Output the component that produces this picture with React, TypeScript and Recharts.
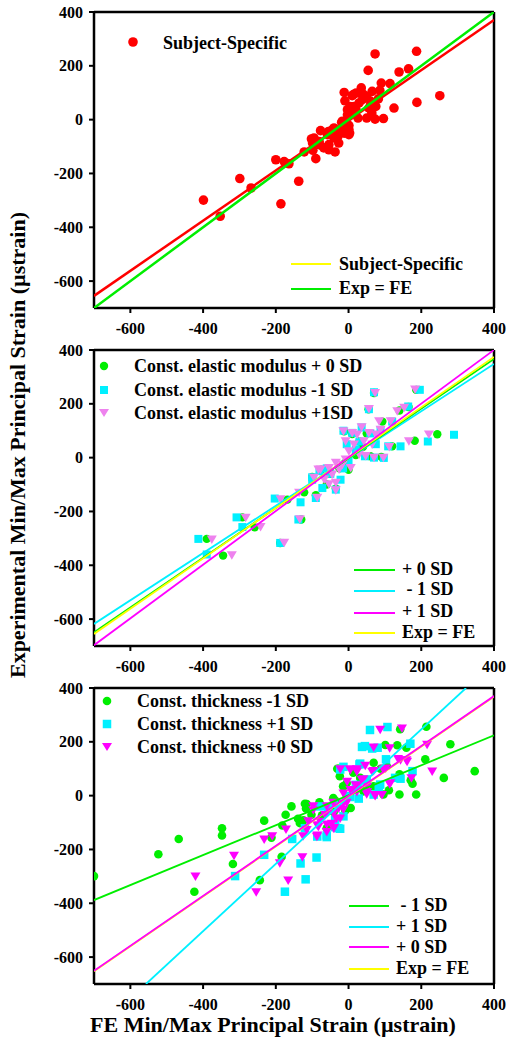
import React from 'react';
import { ScatterChart, Scatter, XAxis, YAxis, ReferenceLine } from 'recharts';

type Pt = { x: number; y: number };

const FONT = '"Liberation Serif", "Times New Roman", serif';

const xTicks = [-600, -400, -200, 0, 200, 400];
const yTicks = [-600, -400, -200, 0, 200, 400];
const axisDomain: [number, number] = [-700, 400];

// ---------- Panel 1 ----------
const subjectSpecific: Pt[] = [
  { x: -399, y: -299 }, { x: -353, y: -359 }, { x: -299, y: -219 }, { x: -268, y: -254 }, { x: -200, y: -149 },
  { x: -186, y: -313 }, { x: -177, y: -156 }, { x: -164, y: -164 }, { x: -137, y: -229 }, { x: -122, y: -120 },
  { x: -102, y: -72 }, { x: -99, y: -87 }, { x: -98, y: -114 }, { x: -95, y: -68 }, { x: -90, y: -145 },
  { x: -81, y: -81 }, { x: -79, y: -94 }, { x: -77, y: -41 }, { x: -68, y: -105 }, { x: -58, y: -56 },
  { x: -55, y: -44 }, { x: -54, y: -93 }, { x: -54, y: -112 }, { x: -44, y: -37 }, { x: -40, y: -31 },
  { x: -40, y: -68 }, { x: -37, y: -120 }, { x: -31, y: -43 }, { x: -29, y: -62 }, { x: -27, y: -87 },
  { x: -19, y: -10 }, { x: -17, y: -6 }, { x: -12, y: -50 }, { x: -12, y: -31 }, { x: -3, y: -31 },
  { x: -3, y: -19 }, { x: 1, y: -22 }, { x: 1, y: -56 }, { x: 3, y: -50 }, { x: 1, y: -37 },
  { x: 1, y: 12 }, { x: -12, y: 101 }, { x: -10, y: 70 }, { x: -3, y: 18 }, { x: -3, y: 37 },
  { x: 4, y: 49 }, { x: 10, y: 89 }, { x: 13, y: 93 }, { x: 15, y: 49 }, { x: 15, y: 31 },
  { x: 21, y: 99 }, { x: 26, y: 6 }, { x: 29, y: 62 }, { x: 35, y: 118 }, { x: 38, y: 74 },
  { x: 50, y: 87 }, { x: 50, y: 6 }, { x: 54, y: 183 }, { x: 56, y: 43 }, { x: 61, y: 56 },
  { x: 61, y: 68 }, { x: 64, y: 25 }, { x: 65, y: 105 }, { x: 73, y: 244 }, { x: 73, y: 2 },
  { x: 75, y: 49 }, { x: 82, y: 77 }, { x: 86, y: 109 }, { x: 90, y: 136 }, { x: 96, y: 4 },
  { x: 114, y: 134 }, { x: 125, y: 43 }, { x: 139, y: 177 }, { x: 165, y: 189 }, { x: 187, y: 254 },
  { x: 188, y: 64 }, { x: 251, y: 89 }, { x: 20, y: 40 }, { x: 8, y: 20 }, { x: 40, y: 95 },
];
const fitSubjectSpecific: Pt[] = [{ x: -700, y: -655 }, { x: 400, y: 370 }];
const fitExpEqFe: Pt[] = [{ x: -700, y: -700 }, { x: 400, y: 400 }];

// ---------- Panel 2 ----------
const modulusPlus0: Pt[] = [
  { x: -390, y: -302 }, { x: -345, y: -364 }, { x: -292, y: -222 }, { x: -258, y: -259 }, { x: -188, y: -317 },
  { x: -168, y: -156 }, { x: -122, y: -129 }, { x: -130, y: -230 }, { x: -100, y: -72 }, { x: -90, y: -140 },
  { x: -75, y: -45 }, { x: -60, y: -100 }, { x: -50, y: -60 }, { x: -35, y: -115 }, { x: -25, y: -40 },
  { x: -10, y: -20 }, { x: 0, y: -45 }, { x: -12, y: 98 }, { x: 10, y: 88 }, { x: 30, y: 60 },
  { x: 50, y: 90 }, { x: 55, y: 180 }, { x: 70, y: 240 }, { x: 93, y: 134 }, { x: 120, y: 42 },
  { x: 182, y: 63 }, { x: 244, y: 87 }, { x: 60, y: 5 }, { x: 90, y: 3 }, { x: 140, y: 175 },
  { x: 165, y: 188 }, { x: 186, y: 252 }, { x: 20, y: 10 }, { x: 40, y: 40 },
];
const modulusMinus1: Pt[] = [
  { x: -413, y: -302 }, { x: -390, y: -360 }, { x: -308, y: -222 }, { x: -292, y: -258 }, { x: -203, y: -152 },
  { x: -188, y: -317 }, { x: -132, y: -166 }, { x: -138, y: -230 }, { x: -100, y: -73 }, { x: -90, y: -150 },
  { x: -100, y: -82 }, { x: -72, y: -113 }, { x: -35, y: -119 }, { x: -22, y: -82 }, { x: -50, y: -60 },
  { x: -80, y: -50 }, { x: -60, y: -40 }, { x: -15, y: -40 }, { x: 0, y: -10 }, { x: -14, y: 100 },
  { x: 10, y: 92 }, { x: 36, y: 112 }, { x: 60, y: 90 }, { x: 88, y: 103 }, { x: 97, y: -1 },
  { x: 70, y: 0 }, { x: 45, y: 5 }, { x: 20, y: 30 }, { x: 30, y: 60 }, { x: -5, y: 50 },
  { x: 75, y: 50 }, { x: 56, y: 180 }, { x: 70, y: 243 }, { x: 120, y: 134 }, { x: 109, y: 42 },
  { x: 143, y: 42 }, { x: 164, y: 190 }, { x: 196, y: 252 }, { x: 218, y: 60 }, { x: 290, y: 85 },
];
const modulusPlus1: Pt[] = [
  { x: -376, y: -305 }, { x: -321, y: -364 }, { x: -283, y: -224 }, { x: -242, y: -259 }, { x: -177, y: -317 },
  { x: -187, y: -156 }, { x: -134, y: -230 }, { x: -136, y: -131 }, { x: -86, y: -150 }, { x: -95, y: -76 },
  { x: -83, y: -45 }, { x: -77, y: -45 }, { x: -67, y: -82 }, { x: -54, y: -100 }, { x: -54, y: -39 },
  { x: -45, y: -64 }, { x: -35, y: -122 }, { x: -35, y: -94 }, { x: -35, y: -20 }, { x: -26, y: -45 },
  { x: -17, y: -27 }, { x: -8, y: -8 }, { x: 6, y: -39 }, { x: 1, y: 23 }, { x: 29, y: 11 },
  { x: 47, y: 5 }, { x: 70, y: -1 }, { x: 96, y: -1 }, { x: -8, y: 60 }, { x: 15, y: 48 },
  { x: 42, y: 60 }, { x: 65, y: 48 }, { x: -14, y: 97 }, { x: 10, y: 91 }, { x: 24, y: 85 },
  { x: 36, y: 112 }, { x: 56, y: 91 }, { x: 75, y: 85 }, { x: 88, y: 103 }, { x: 84, y: 134 },
  { x: 116, y: 134 }, { x: 56, y: 180 }, { x: 73, y: 239 }, { x: 134, y: 171 }, { x: 153, y: 184 },
  { x: 183, y: 252 }, { x: 112, y: 39 }, { x: 166, y: 60 }, { x: 221, y: 85 },
];
const fitModulusPlus0: Pt[] = [{ x: -700, y: -649 }, { x: 400, y: 367 }];
const fitModulusMinus1: Pt[] = [{ x: -700, y: -618 }, { x: 400, y: 348 }];
const fitModulusPlus1: Pt[] = [{ x: -700, y: -697 }, { x: 400, y: 400 }];
const fitModulusExpFe: Pt[] = [{ x: -700, y: -655 }, { x: 400, y: 374 }];

// ---------- Panel 3 ----------
const thicknessMinus1: Pt[] = [
  { x: -700, y: -299 }, { x: -523, y: -218 }, { x: -467, y: -161 }, { x: -424, y: -357 }, { x: -348, y: -121 },
  { x: -348, y: -148 }, { x: -318, y: -254 }, { x: -244, y: -314 }, { x: -232, y: -93 }, { x: -212, y: -156 },
  { x: -184, y: -227 }, { x: -182, y: -111 }, { x: -173, y: -71 }, { x: -157, y: -40 }, { x: -139, y: -86 },
  { x: -134, y: -102 }, { x: -115, y: -31 }, { x: -117, y: -48 }, { x: -102, y: -71 }, { x: -80, y: -25 },
  { x: -60, y: -121 }, { x: -42, y: -9 }, { x: 6, y: -46 }, { x: -31, y: 100 }, { x: -24, y: 72 },
  { x: -15, y: 35 }, { x: -5, y: 47 }, { x: 13, y: 85 }, { x: 32, y: 66 }, { x: 69, y: 122 },
  { x: 101, y: 188 }, { x: 142, y: 247 }, { x: 214, y: 256 }, { x: 159, y: 178 }, { x: 211, y: 135 },
  { x: 140, y: 79 }, { x: 140, y: 4 }, { x: 186, y: 4 }, { x: 176, y: 44 }, { x: 96, y: 4 },
  { x: 262, y: 66 }, { x: 280, y: 191 }, { x: 347, y: 91 }, { x: 105, y: 110 }, { x: 69, y: 35 },
  { x: 41, y: 16 }, { x: -27, y: 100 }, { x: -9, y: 38 }, { x: 134, y: 187 }, { x: 171, y: 57 },
  { x: 88, y: 100 }, { x: 111, y: 20 }, { x: -120, y: -30 }, { x: -78, y: -36 }, { x: -37, y: -18 },
  { x: -9, y: -55 }, { x: -124, y: -92 }, { x: -73, y: -73 }, { x: -41, y: -61 },
];
const thicknessPlus1: Pt[] = [
  { x: -312, y: -299 }, { x: -232, y: -220 }, { x: -175, y: -357 }, { x: -155, y: -161 }, { x: -132, y: -252 },
  { x: -118, y: -311 }, { x: -88, y: -230 }, { x: -60, y: -148 }, { x: -120, y: -121 }, { x: -86, y: -152 },
  { x: -28, y: -121 }, { x: -37, y: -117 }, { x: -23, y: -123 }, { x: -60, y: -154 }, { x: -14, y: -77 },
  { x: -37, y: -90 }, { x: -56, y: -52 }, { x: -79, y: -40 }, { x: -40, y: -30 }, { x: -5, y: -2 },
  { x: 5, y: -5 }, { x: 28, y: -11 }, { x: 20, y: 40 }, { x: 50, y: 60 }, { x: 83, y: 32 },
  { x: 69, y: 4 }, { x: 87, y: 41 }, { x: -23, y: 97 }, { x: -14, y: 107 }, { x: 30, y: 116 },
  { x: 32, y: 119 }, { x: 128, y: 66 }, { x: 143, y: 63 }, { x: 176, y: 91 }, { x: 103, y: 135 },
  { x: 45, y: 184 }, { x: 37, y: 181 }, { x: 65, y: 175 }, { x: 80, y: 178 }, { x: 170, y: 193 },
  { x: 59, y: 244 }, { x: 107, y: 255 },
];
const thicknessPlus0: Pt[] = [
  { x: -421, y: -301 }, { x: -315, y: -224 }, { x: -254, y: -360 }, { x: -232, y: -164 }, { x: -210, y: -152 },
  { x: -189, y: -252 }, { x: -172, y: -127 }, { x: -166, y: -316 }, { x: -127, y: -230 }, { x: -125, y: -152 },
  { x: -111, y: -96 }, { x: -86, y: -149 }, { x: -86, y: -111 }, { x: -60, y: -108 }, { x: -40, y: -121 },
  { x: -33, y: -87 }, { x: -5, y: -27 }, { x: -115, y: -129 }, { x: -87, y: -154 }, { x: -60, y: -136 },
  { x: -97, y: -55 }, { x: -83, y: -117 }, { x: -41, y: -123 }, { x: -78, y: -98 }, { x: -64, y: -73 },
  { x: -46, y: -105 }, { x: -23, y: -86 }, { x: -41, y: -67 }, { x: -27, y: -49 }, { x: -14, y: -30 },
  { x: -14, y: -52 }, { x: -97, y: -40 }, { x: -60, y: -40 }, { x: -42, y: -27 }, { x: -14, y: 7 },
  { x: 5, y: 20 }, { x: 23, y: 13 }, { x: 51, y: 13 }, { x: 13, y: 16 }, { x: 50, y: 4 },
  { x: 73, y: -2 }, { x: 74, y: 1 }, { x: 92, y: 1 }, { x: 27, y: 35 }, { x: 19, y: 38 },
  { x: -4, y: 51 }, { x: 37, y: 57 }, { x: 51, y: 32 }, { x: 41, y: 60 }, { x: 113, y: 41 },
  { x: 115, y: 45 }, { x: -23, y: 97 }, { x: 4, y: 97 }, { x: 5, y: 94 }, { x: 23, y: 97 },
  { x: 23, y: 88 }, { x: 46, y: 110 }, { x: 65, y: 88 }, { x: 69, y: 91 }, { x: 95, y: 97 },
  { x: 102, y: 100 }, { x: 143, y: 131 }, { x: 136, y: 135 }, { x: 159, y: 131 }, { x: 161, y: 125 },
  { x: 113, y: 175 }, { x: 69, y: 178 }, { x: 87, y: 244 }, { x: 147, y: 249 }, { x: 216, y: 188 },
  { x: 173, y: 64 }, { x: 230, y: 89 },
];
const fitThicknessMinus1: Pt[] = [{ x: -700, y: -388 }, { x: 400, y: 224 }];
const fitThicknessPlus1: Pt[] = [{ x: -557, y: -700 }, { x: 323, y: 400 }];
const fitThicknessPlus0: Pt[] = [{ x: -700, y: -651 }, { x: 400, y: 370 }];
const fitThicknessExpFe: Pt[] = [{ x: -700, y: -653 }, { x: 400, y: 368 }];

// ---------- colours ----------
const RED = '#ff0000';
const GREEN = '#00ee00';
const CYAN = '#00f0ff';
const MAGENTA = '#ff00ff';
const VIOLET = '#ee82ee';
const YELLOW = '#ffff00';

// ---------- shapes ----------
const circleShape = (r: number, fill: string) => (p: any) =>
  <circle cx={p.cx} cy={p.cy} r={r} fill={fill} />;
const squareShape = (s: number, fill: string) => (p: any) =>
  <rect x={p.cx - s / 2} y={p.cy - s / 2} width={s} height={s} fill={fill} />;
const triDownShape = (w: number, h: number, fill: string) => (p: any) =>
  <polygon points={`${p.cx - w / 2},${p.cy - h / 2} ${p.cx + w / 2},${p.cy - h / 2} ${p.cx},${p.cy + h / 2}`} fill={fill} />;
const noShape = () => <g />;

const XTick = (p: any) => (
  <text
    x={p.x}
    y={p.y}
    textAnchor="middle"
    dominantBaseline="hanging"
    fontFamily="Liberation Serif"
    fontWeight="bold"
    fontSize={16}
    style={{ fontFamily: FONT, fontWeight: 'bold', fontSize: 16 }}
    fill="#000"
  >
    {p.payload.value}
  </text>
);
const YTick = (p: any) => (
  <text
    x={p.x}
    y={p.y}
    textAnchor="end"
    dy={5.5}
    fontFamily="Liberation Serif"
    fontWeight="bold"
    fontSize={16}
    style={{ fontFamily: FONT, fontWeight: 'bold', fontSize: 16 }}
    fill="#000"
  >
    {p.payload.value}
  </text>
);

function fitLine(data: Pt[], color: string, width: number) {
  return (
    <Scatter
      data={data}
      line={{ stroke: color, strokeWidth: width }}
      shape={noShape}
      isAnimationActive={false}
      legendType="none"
    />
  );
}

function Panel({ top, children }: { top: number; children: React.ReactNode }) {
  return (
    <div style={{ position: 'absolute', left: 0, top }}>
      <ScatterChart
        width={510}
        height={340}
        margin={{ top: 12, right: 16, bottom: 0, left: 0 }}
        style={{ fontFamily: FONT }}
      >
        <XAxis
          type="number"
          dataKey="x"
          domain={axisDomain}
          ticks={xTicks}
          interval={0}
          allowDataOverflow
          height={32}
          tickSize={5}
          tickMargin={10}
          axisLine={{ stroke: '#000', strokeWidth: 2.5 }}
          tickLine={{ stroke: '#000', strokeWidth: 2 }}
          tick={<XTick />}
        />
        <YAxis
          type="number"
          dataKey="y"
          domain={axisDomain}
          ticks={yTicks}
          interval={0}
          allowDataOverflow
          width={94}
          tickSize={5}
          tickMargin={6}
          axisLine={{ stroke: '#000', strokeWidth: 2.5 }}
          tickLine={{ stroke: '#000', strokeWidth: 2 }}
          tick={<YTick />}
        />
        <ReferenceLine x={400} stroke="#000" strokeWidth={2.5} />
        <ReferenceLine y={400} stroke="#000" strokeWidth={2.5} />
        {children}
      </ScatterChart>
    </div>
  );
}

const Txt = ({ x, y, text, size = 18 }: { x: number; y: number; text: string; size?: number }) => (
  <div
    style={{
      position: 'absolute', left: x, top: y, transform: 'translateY(-50%)',
      fontFamily: FONT, fontWeight: 'bold', fontSize: size, lineHeight: 1, whiteSpace: 'pre', color: '#000',
    }}
  >
    {text}
  </div>
);

const LegLine = ({ x1, x2, y, color }: { x1: number; x2: number; y: number; color: string }) => (
  <svg style={{ position: 'absolute', left: x1, top: y - 2, overflow: 'visible' }} width={x2 - x1} height={4}>
    <line x1={0} x2={x2 - x1} y1={2} y2={2} stroke={color} strokeWidth={2} />
  </svg>
);

const LegMarker = ({ x, y, kind, color, size }: { x: number; y: number; kind: string; color: string; size: number }) => (
  <svg style={{ position: 'absolute', left: x - 8, top: y - 8 }} width={16} height={16}>
    {kind === 'circle' && <circle cx={8} cy={8} r={size / 2} fill={color} />}
    {kind === 'square' && <rect x={8 - size / 2} y={8 - size / 2} width={size} height={size} fill={color} />}
    {kind === 'tri' && (
      <polygon points={`${8 - size / 2},${8 - size * 0.4} ${8 + size / 2},${8 - size * 0.4} 8,${8 + size * 0.4}`} fill={color} />
    )}
  </svg>
);

export default function App() {
  return (
    <div style={{ position: 'absolute', left: 0, top: 0, width: 510, height: 1044, background: '#fff', overflow: 'hidden' }}>
      <Panel top={0}>
        <Scatter data={subjectSpecific} shape={circleShape(4.8, RED)} isAnimationActive={false} />
        {fitLine(fitSubjectSpecific, RED, 2.5)}
        {fitLine(fitExpEqFe, GREEN, 2.5)}
      </Panel>
      <Panel top={338}>
        <Scatter data={modulusPlus0} shape={circleShape(4.2, GREEN)} isAnimationActive={false} />
        <Scatter data={modulusMinus1} shape={squareShape(8, CYAN)} isAnimationActive={false} />
        <Scatter data={modulusPlus1} shape={triDownShape(10, 8.5, VIOLET)} isAnimationActive={false} />
        {fitLine(fitModulusMinus1, CYAN, 1.8)}
        {fitLine(fitModulusPlus0, GREEN, 1.8)}
        {fitLine(fitModulusExpFe, YELLOW, 1.8)}
        {fitLine(fitModulusPlus1, MAGENTA, 1.8)}
      </Panel>
      <Panel top={676}>
        <Scatter data={thicknessMinus1} shape={circleShape(4.3, GREEN)} isAnimationActive={false} />
        <Scatter data={thicknessPlus1} shape={squareShape(8.5, CYAN)} isAnimationActive={false} />
        <Scatter data={thicknessPlus0} shape={triDownShape(10, 8.5, MAGENTA)} isAnimationActive={false} />
        {fitLine(fitThicknessMinus1, GREEN, 1.8)}
        {fitLine(fitThicknessPlus1, CYAN, 1.8)}
        {fitLine(fitThicknessExpFe, YELLOW, 1.8)}
        {fitLine(fitThicknessPlus0, MAGENTA, 1.8)}
      </Panel>

      {/* Panel 1 legends */}
      <LegMarker x={133} y={42} kind="circle" color={RED} size={9.6} />
      <Txt x={163} y={43} text="Subject-Specific" />
      <LegLine x1={291} x2={331} y={264} color={YELLOW} />
      <Txt x={339} y={264} text="Subject-Specific" />
      <LegLine x1={291} x2={331} y={289} color={GREEN} />
      <Txt x={339} y={288} text="Exp = FE" />

      {/* Panel 2 legends */}
      <LegMarker x={104} y={366} kind="circle" color={GREEN} size={8.4} />
      <Txt x={134} y={366} text="Const. elastic modulus + 0 SD" />
      <LegMarker x={104} y={390} kind="square" color={CYAN} size={8} />
      <Txt x={134} y={390} text="Const. elastic modulus -1 SD" />
      <LegMarker x={104} y={413} kind="tri" color={VIOLET} size={10} />
      <Txt x={134} y={413} text="Const. elastic modulus +1SD" />
      <LegLine x1={354} x2={395} y={570} color={GREEN} />
      <Txt x={402} y={569} text="+ 0 SD" />
      <LegLine x1={354} x2={395} y={591} color={CYAN} />
      <Txt x={402} y={589} text=" - 1 SD" />
      <LegLine x1={354} x2={395} y={613} color={MAGENTA} />
      <Txt x={402} y={611} text="+ 1 SD" />
      <LegLine x1={354} x2={395} y={633} color={YELLOW} />
      <Txt x={402} y={632} text="Exp = FE" />

      {/* Panel 3 legends */}
      <LegMarker x={107} y={701} kind="circle" color={GREEN} size={8.6} />
      <Txt x={137} y={701} text="Const. thickness -1 SD" />
      <LegMarker x={107} y={724} kind="square" color={CYAN} size={8.5} />
      <Txt x={137} y={724} text="Const. thickness +1 SD" />
      <LegMarker x={107} y={747} kind="tri" color={MAGENTA} size={10} />
      <Txt x={137} y={747} text="Const. thickness +0 SD" />
      <LegLine x1={349} x2={389} y={906} color={GREEN} />
      <Txt x={396} y={905} text=" - 1 SD" />
      <LegLine x1={349} x2={389} y={927} color={CYAN} />
      <Txt x={396} y={926} text="+ 1 SD" />
      <LegLine x1={349} x2={389} y={947} color={MAGENTA} />
      <Txt x={396} y={947} text="+ 0 SD" />
      <LegLine x1={349} x2={389} y={969} color={YELLOW} />
      <Txt x={396} y={968} text="Exp = FE" />

      {/* Axis titles */}
      <div
        style={{
          position: 'absolute', left: 273, top: 1025, transform: 'translate(-50%, -50%)',
          fontFamily: FONT, fontWeight: 'bold', fontSize: 22, lineHeight: 1, whiteSpace: 'nowrap',
        }}
      >
        FE Min/Max Principal Strain (µstrain)
      </div>
      <div
        style={{
          position: 'absolute', left: 18, top: 445, transform: 'translate(-50%, -50%) rotate(-90deg)',
          fontFamily: FONT, fontWeight: 'bold', fontSize: 22, lineHeight: 1, whiteSpace: 'nowrap',
        }}
      >
        Experimental Min/Max Principal Strain (µstrain)
      </div>
    </div>
  );
}
